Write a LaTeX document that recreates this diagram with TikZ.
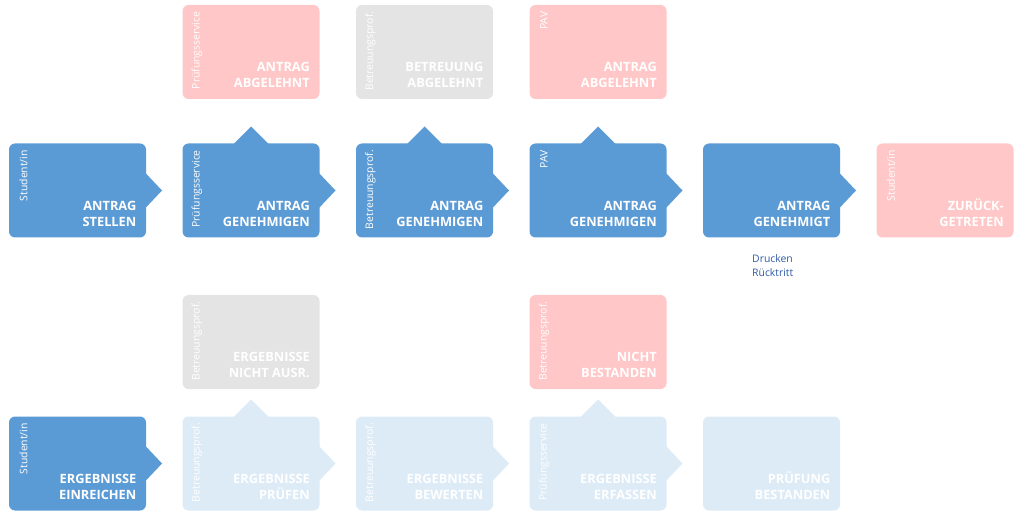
\documentclass[tikz,border=0pt]{standalone}
\usepackage{fontspec}
\setmainfont{Open Sans}
\usepackage{tikz}
\usetikzlibrary{positioning}
\definecolor{dkblue}{HTML}{5B9BD5}
\definecolor{ltblue}{HTML}{DDEBF7}
\definecolor{rosa}{HTML}{FFC7C7}
\definecolor{grau}{HTML}{E4E4E4}
\definecolor{navy}{HTML}{2E5AA8}

\begin{document}
\begin{tikzpicture}[x=1pt, y=1pt, node distance=36.5pt,
  box/.style={rectangle,rounded corners=6pt,minimum width=137pt,minimum height=94pt,inner sep=0pt,outer sep=0pt},
  act/.style={box,fill=dkblue},
  rej/.style={box,fill=rosa},
  gry/.style={box,fill=grau},
  todo/.style={box,fill=ltblue},
  ttl/.style={anchor=south east,xshift=-9.5pt,yshift=11pt,inner sep=0pt,align=right,text=white,font=\bfseries\fontsize{12.8}{15.7}\selectfont},
  role/.style={xshift=14.5pt,yshift=-6.5pt,rotate=90,anchor=east,inner sep=0pt,text=white,font=\fontsize{10.4}{12}\selectfont}]
  \useasboundingbox (0,0) rectangle (1017,-518);
  % antrag
  \node[act, anchor=north west, label={[role,name=st-r]north west:Student/in}, label={[ttl,name=st-t]south east:ANTRAG\\STELLEN}] (st) at (9,-143.5) {};
  \node[act, right=of st, label={[role,name=pg-r]north west:Prüfungsservice}, label={[ttl,name=pg-t]south east:ANTRAG\\GENEHMIGEN}] (pg) {};
  \node[act, right=of pg, label={[role,name=bg-r]north west:Betreuungsprof.}, label={[ttl,name=bg-t]south east:ANTRAG\\GENEHMIGEN}] (bg) {};
  \node[act, right=of bg, label={[role,name=pav-r]north west:PAV}, label={[ttl,name=pav-t]south east:ANTRAG\\GENEHMIGEN}] (pav) {};
  \node[act, right=of pav, label={[ttl,name=gm-t]south east:ANTRAG\\GENEHMIGT}] (gm) {};
  \node[rej, right=of gm, label={[role,name=zur-r]north west:Student/in}, label={[ttl,name=zur-t]south east:ZURÜCK-\\GETRETEN}] (zur) {};
  \node[font=\fontsize{10.4}{14}\selectfont, text=navy, align=left, inner sep=0pt, below right=17pt and 49pt of gm.south west] (opt) {Drucken\\Rücktritt};
  % abgelehnt
  \node[rej, above=44.5pt of pg, label={[role,name=pga-r]north west:Prüfungsservice}, label={[ttl,name=pga-t]south east:ANTRAG\\ABGELEHNT}] (pga) {};
  \node[gry, above=44.5pt of bg, label={[role,name=bga-r]north west:Betreuungsprof.}, label={[ttl,name=bga-t]south east:BETREUUNG\\ABGELEHNT}] (bga) {};
  \node[rej, above=44.5pt of pav, label={[role,name=pava-r]north west:PAV}, label={[ttl,name=pava-t]south east:ANTRAG\\ABGELEHNT}] (pava) {};
  % ergebnisse
  \node[gry, below=57.5pt of pg, label={[role,name=ena-r]north west:Betreuungsprof.}, label={[ttl,name=ena-t]south east:ERGEBNISSE\\NICHT AUSR.}] (ena) {};
  \node[rej, below=57.5pt of pav, label={[role,name=nbe-r]north west:Betreuungsprof.}, label={[ttl,name=nbe-t]south east:NICHT\\BESTANDEN}] (nbe) {};
  \node[act, below=179pt of st, label={[role,name=ein-r]north west:Student/in}, label={[ttl,name=ein-t]south east:ERGEBNISSE\\EINREICHEN}] (ein) {};
  \node[todo, below=27.5pt of ena, label={[role,name=epr-r]north west:Betreuungsprof.}, label={[ttl,name=epr-t]south east:ERGEBNISSE\\PRÜFEN}] (epr) {};
  \node[todo, right=of epr, label={[role,name=ebw-r]north west:Betreuungsprof.}, label={[ttl,name=ebw-t]south east:ERGEBNISSE\\BEWERTEN}] (ebw) {};
  \node[todo, right=of ebw, label={[role,name=eer-r]north west:Prüfungsservice}, label={[ttl,name=eer-t]south east:ERGEBNISSE\\ERFASSEN}] (eer) {};
  \node[todo, right=of eer, label={[ttl,name=pbe-t]south east:PRÜFUNG\\BESTANDEN}] (pbe) {};
  % spitzen
  \foreach \n/\col in {st/dkblue,pg/dkblue,bg/dkblue,pav/dkblue,gm/dkblue,ein/dkblue,epr/ltblue,ebw/ltblue,eer/ltblue}
    \fill[\col] ([shift={(-1,18)}]\n.east) -- ++(17,-18) -- ++(-17,-18) -- cycle;
  \foreach \n/\col in {pg/dkblue,bg/dkblue,pav/dkblue,epr/ltblue,eer/ltblue}
    \fill[\col] ([shift={(-18,-1)}]\n.north) -- ++(18,18) -- ++(18,-18) -- cycle;
\end{tikzpicture}
\end{document}
